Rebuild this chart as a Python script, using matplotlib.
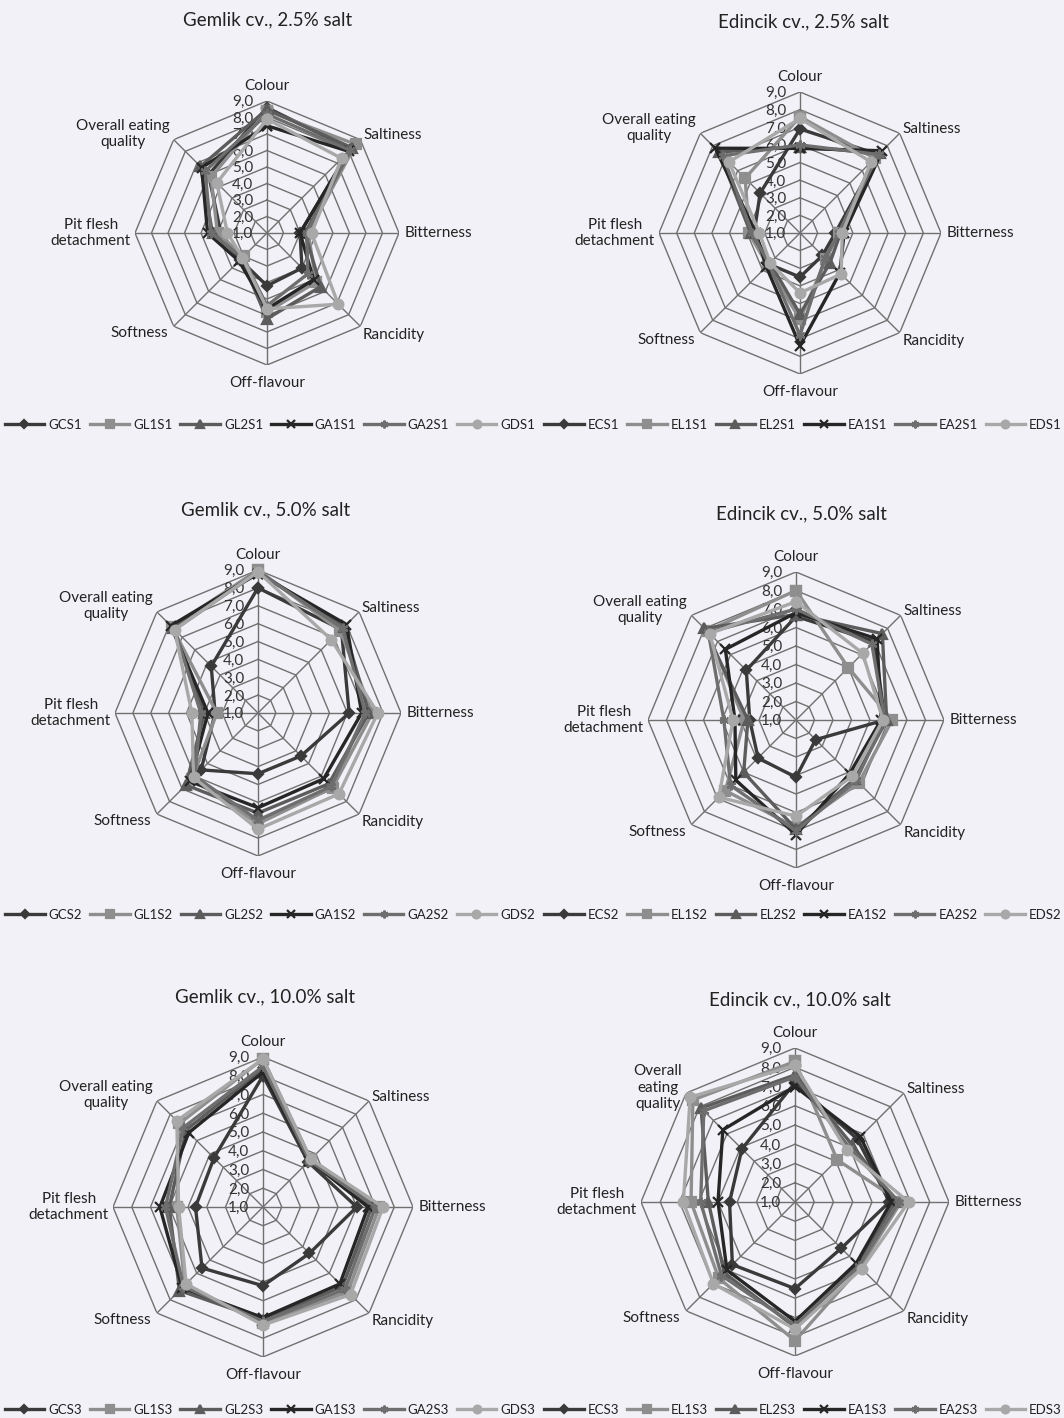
import matplotlib
matplotlib.use('Agg')
import matplotlib.pyplot as plt
import numpy as np

plt.rcParams['font.family'] = ['Lato', 'DejaVu Sans']

cats = ['Colour', 'Saltiness', 'Bitterness', 'Rancidity', 'Off-flavour',
        'Softness', 'Pit flesh\ndetachment', 'Overall eating\nquality']
ticks = [1, 2, 3, 4, 5, 6, 7, 8, 9]
tick_labels = ['1,0', '2,0', '3,0', '4,0', '5,0', '6,0', '7,0', '8,0', '9,0']
codes = ['CS', 'L1S', 'L2S', 'A1S', 'A2S', 'DS']

# Colour, Saltiness, Bitterness, Rancidity, Off-flavour, Softness, Pit flesh, Overall
gem_25 = [[8.6, 8.2, 3.0, 4.0, 4.2, 3.3, 3.8, 6.0],
          [8.4, 8.6, 3.5, 5.2, 5.8, 3.0, 4.0, 5.8],
          [8.5, 8.3, 3.3, 5.6, 6.2, 3.2, 4.3, 6.7],
          [7.5, 8.0, 3.0, 5.0, 5.6, 3.4, 4.6, 6.6],
          [8.2, 8.1, 3.4, 4.5, 5.4, 3.1, 4.4, 6.3],
          [7.9, 7.4, 3.7, 7.1, 5.6, 3.1, 3.4, 5.3]]
edi_25 = [[6.9, 7.3, 3.0, 2.8, 3.5, 3.5, 3.6, 4.2],
          [7.6, 7.0, 3.2, 3.1, 5.9, 3.6, 3.9, 5.4],
          [5.9, 7.4, 3.3, 3.4, 5.6, 3.4, 3.8, 7.5],
          [5.8, 7.6, 3.5, 4.2, 7.4, 3.7, 3.5, 7.8],
          [6.0, 7.3, 3.2, 3.0, 6.8, 3.5, 3.7, 7.2],
          [7.5, 6.7, 3.4, 4.3, 4.4, 3.4, 3.3, 6.7]]
gem_50 = [[8.0, 7.6, 6.1, 4.4, 4.4, 5.5, 3.4, 4.7],
          [9.0, 7.5, 7.4, 6.9, 7.2, 6.2, 3.3, 7.8],
          [8.9, 7.8, 7.2, 6.6, 6.6, 6.7, 4.0, 7.7],
          [8.8, 8.0, 6.8, 6.2, 6.3, 6.4, 3.8, 7.9],
          [8.9, 7.7, 7.0, 6.8, 7.0, 6.0, 4.2, 7.6],
          [8.9, 6.8, 7.7, 7.4, 7.5, 6.1, 4.7, 7.6]]
edi_50 = [[6.6, 7.0, 5.8, 2.5, 4.1, 3.9, 3.5, 4.8],
          [8.0, 5.0, 6.2, 5.8, 6.8, 6.4, 3.8, 7.8],
          [6.7, 7.6, 5.9, 5.5, 6.9, 5.0, 3.6, 8.0],
          [6.8, 7.2, 5.6, 5.1, 7.2, 5.6, 4.3, 6.4],
          [7.0, 6.8, 5.8, 5.6, 7.0, 6.0, 4.9, 7.7],
          [7.4, 6.1, 5.7, 5.3, 6.2, 6.9, 4.4, 7.6]]
gem_100 = [[8.0, 4.4, 6.0, 4.5, 5.2, 5.6, 4.6, 4.7],
           [8.9, 4.6, 7.2, 7.4, 7.2, 6.9, 5.6, 7.3],
           [8.4, 4.5, 6.8, 7.0, 7.0, 7.3, 6.0, 6.8],
           [8.2, 4.5, 6.6, 6.8, 6.9, 7.1, 6.5, 6.6],
           [8.5, 4.5, 7.0, 7.2, 7.1, 7.0, 6.2, 7.0],
           [8.9, 4.6, 7.4, 7.6, 7.3, 6.8, 5.5, 7.5]]
edi_100 = [[7.2, 5.6, 5.9, 4.4, 5.5, 5.6, 4.4, 4.9],
           [8.3, 4.1, 6.5, 5.8, 8.2, 6.6, 6.4, 8.5],
           [7.6, 5.2, 6.2, 5.6, 7.5, 6.2, 5.5, 7.9],
           [7.0, 5.8, 6.0, 5.5, 7.2, 6.0, 5.0, 6.3],
           [7.5, 5.0, 6.4, 5.7, 7.4, 6.4, 5.9, 7.7],
           [8.1, 4.8, 6.9, 5.9, 7.6, 7.0, 6.8, 8.7]]

colors = ['#3a3a3a', '#8e8e8e', '#5c5c5c', '#262626', '#6e6e6e', '#a8a8a8']
markers = ['D', 's', '^', 'x', (6, 2, 0), 'o']
msizes = [5, 6.5, 6.5, 7, 7, 7]

W, H = 1064, 1418
fig = plt.figure(figsize=(W / 100, H / 100), dpi=100, facecolor='#f1f1f7')

# (data, prefix, suffix, title, cx, cy, R, title x, title y) in pixels
panels = [
    (gem_25, 'G', '1', 'Gemlik cv., 2.5% salt', 267, 233, 132, 268, 20),
    (edi_25, 'E', '1', 'Edincik cv., 2.5% salt', 800, 233, 141, 803, 22),
    (gem_50, 'G', '2', 'Gemlik cv., 5.0% salt', 258, 713, 143, 266, 510),
    (edi_50, 'E', '2', 'Edincik cv., 5.0% salt', 796, 720, 148, 801, 514),
    (gem_100, 'G', '3', 'Gemlik cv., 10.0% salt', 263, 1207, 150, 265, 997),
    (edi_100, 'E', '3', 'Edincik cv., 10.0% salt', 795, 1202, 154, 800, 1000),
]
legend_y = [425, 425, 915, 915, 1410, 1410]
legend_x = [270, 803, 270, 803, 270, 803]

n = len(cats)
theta = np.arange(n) * 2 * np.pi / n
theta_c = np.append(theta, theta[0])

label_pos = [('center', 'bottom', 0, 6), ('left', 'center', 2, 3),
             ('left', 'center', 4, 0), ('left', 'center', 2, -6),
             ('center', 'top', 0, -8), ('right', 'center', -4, -5),
             ('right', 'center', -3, 0), ('right', 'center', -3, 4)]

for k, (data, pre, suf, title, cx, cy, R, tx, ty) in enumerate(panels):
    ax = fig.add_axes([(cx - R) / W, 1 - (cy + R) / H, 2 * R / W, 2 * R / H],
                      projection='polar')
    ax.set_theta_zero_location('N')
    ax.set_theta_direction(-1)
    ax.set_ylim(1, 9)
    ax.set_xticks([])
    ax.set_yticks([])
    ax.grid(False)
    ax.spines['polar'].set_visible(False)
    ax.patch.set_alpha(0)

    for r in ticks[1:]:
        ax.plot(theta_c, [r] * (n + 1), color='#707070', lw=1.0, zorder=1)
    for t in theta:
        ax.plot([t, t], [1, 9], color='#707070', lw=1.0, zorder=1)

    for r, lab in zip(ticks, tick_labels):
        ax.annotate(lab, xy=(0, r), xytext=(-10, -1), textcoords='offset points',
                    ha='right', va='center', fontsize=11, color='#333333', zorder=2)

    for i, cat in enumerate(cats):
        ha, va, dx, dy = label_pos[i]
        if k == 5 and i == 7:
            cat = 'Overall\neating\nquality'
        ax.annotate(cat, xy=(theta[i], 9), xytext=(dx, dy), textcoords='offset points',
                    ha=ha, va=va, fontsize=11, color='#222222',
                    multialignment='center', annotation_clip=False)

    handles = []
    for j, vals in enumerate(data):
        v = list(vals) + [vals[0]]
        ln, = ax.plot(theta_c, v, color=colors[j], lw=2.4, marker=markers[j],
                      ms=msizes[j], mec=colors[j], mew=1.6, zorder=3 + j,
                      label=pre + codes[j] + suf, clip_on=False)
        handles.append(ln)

    fig.text(tx / W, 1 - ty / H, title, ha='center', va='center',
             fontsize=13.5, color='#222222')

    fig.legend(handles=handles, loc='center', ncol=6, frameon=False,
               bbox_to_anchor=(legend_x[k] / W, 1 - legend_y[k] / H),
               fontsize=9.5, handlelength=3.0, handletextpad=0.3,
               columnspacing=0.6, numpoints=1, markerscale=0.8,
               labelcolor='#222222')

fig.savefig('out.png', dpi=100, facecolor=fig.get_facecolor())
